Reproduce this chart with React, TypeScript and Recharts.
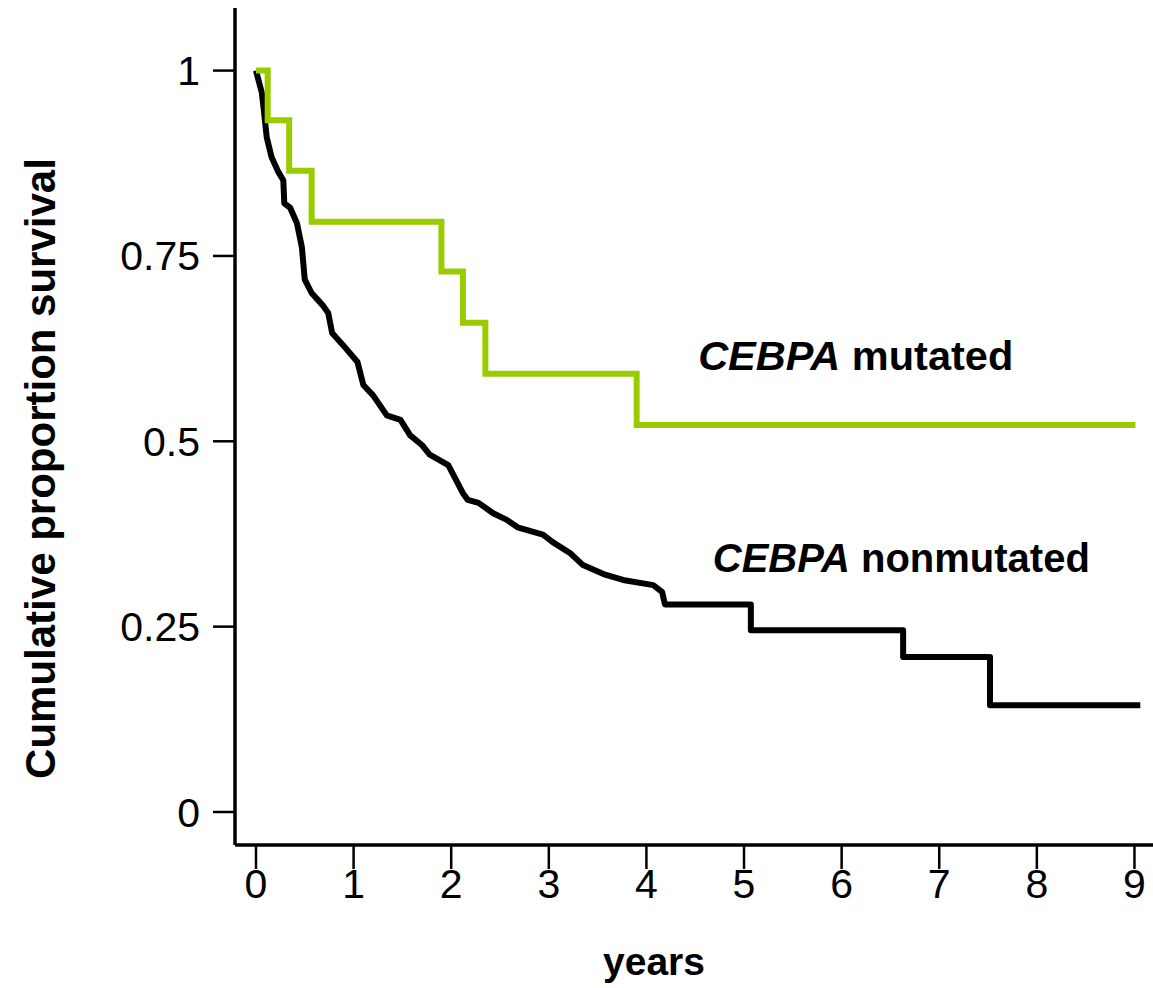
import React from "react";
import {
  LineChart,
  Line,
  XAxis,
  YAxis,
  ReferenceDot,
  Label,
} from "recharts";

// ---- data ----
const xTicks = [0, 1, 2, 3, 4, 5, 6, 7, 8, 9];
const yTicks = [0, 0.25, 0.5, 0.75, 1];

const mutatedYears = [0, 0.12, 0.34, 0.57, 1.9, 2.12, 2.35, 3.9, 9.01];
const mutatedSurvival = [1.0, 0.933, 0.865, 0.796, 0.729, 0.66, 0.591, 0.522, 0.522];

const nonmutatedYears = [
  0, 0.03, 0.06, 0.08, 0.11, 0.16, 0.23, 0.28, 0.29, 0.35, 0.42, 0.47, 0.5,
  0.57, 0.68, 0.74, 0.78, 0.89, 1.04, 1.1, 1.2, 1.34, 1.48, 1.58, 1.7, 1.78,
  1.97, 2.12, 2.17, 2.28, 2.43, 2.57, 2.68, 2.94, 3.04, 3.22, 3.35, 3.56, 3.76,
  4.07, 4.16, 4.19, 5.07, 5.07, 6.63, 6.63, 7.52, 7.52, 9.06,
];
const nonmutatedSurvival = [
  1.0, 0.985, 0.97, 0.947, 0.91, 0.883, 0.863, 0.852, 0.821, 0.815, 0.794,
  0.762, 0.718, 0.7, 0.684, 0.673, 0.646, 0.63, 0.607, 0.576, 0.562, 0.535,
  0.529, 0.508, 0.495, 0.482, 0.468, 0.43, 0.421, 0.417, 0.403, 0.394, 0.384,
  0.374, 0.364, 0.349, 0.333, 0.321, 0.313, 0.306, 0.297, 0.28, 0.28, 0.245,
  0.245, 0.209, 0.209, 0.144, 0.144,
];

const mutatedLabelAt = { x: 4.53, y: 0.596 };
const nonmutatedLabelAt = { x: 4.68, y: 0.324 };

const mutatedData = mutatedYears.map((t, i) => ({ t, s: mutatedSurvival[i] }));
const nonmutatedData = nonmutatedYears.map((t, i) => ({ t, s: nonmutatedSurvival[i] }));

const FONT = '"Liberation Sans", Arial, Helvetica, sans-serif';
const GREEN = "#99cc00";

const annotation = (rest: string, size: number) => (props: any) => (
  <text
    x={props.cx}
    y={props.cy}
    textAnchor="start"
    fontFamily={FONT}
    fontWeight="bold"
    fontSize={size}
    fill="#000"
  >
    <tspan fontStyle="italic">CEBPA</tspan>
    <tspan>{" " + rest}</tspan>
  </text>
);

const YTitle = (props: any) => {
  const vb = props.viewBox || {};
  const cx = vb.x + 40;
  const cy = vb.y + vb.height / 2 + 42;
  return (
    <text
      x={cx}
      y={cy}
      transform={`rotate(-90 ${cx} ${cy})`}
      textAnchor="middle"
      dominantBaseline="central"
      fontFamily={FONT}
      fontWeight="bold"
      fontSize={42}
      fill="#000"
    >
      Cumulative proportion survival
    </text>
  );
};

const XTitle = (props: any) => {
  const vb = props.viewBox || {};
  const cx = vb.x + vb.width / 2 - 40;
  const cy = vb.y + 130;
  return (
    <text
      x={cx}
      y={cy}
      textAnchor="middle"
      fontFamily={FONT}
      fontWeight="bold"
      fontSize={39}
      fill="#000"
    >
      years
    </text>
  );
};

export default function App() {
  return (
    <div style={{ position: "absolute", left: 0, top: 0, background: "#fff" }}>
      <LineChart
        width={1153}
        height={988}
        margin={{ top: 8, right: 0, bottom: 0, left: 0 }}
      >
        <XAxis
          type="number"
          dataKey="t"
          domain={[-0.215, 9.19]}
          allowDataOverflow
          ticks={xTicks}
          interval={0}
          height={143}
          tickSize={24}
          tickMargin={0}
          axisLine={{ stroke: "#000", strokeWidth: 3.5 }}
          tickLine={{ stroke: "#000", strokeWidth: 2.5 }}
          tick={{ fill: "#000", fontSize: 41, fontFamily: FONT }}
        >
          <Label content={<XTitle />} />
        </XAxis>
        <YAxis
          type="number"
          dataKey="s"
          domain={[-0.0445, 1.0844]}
          allowDataOverflow
          ticks={yTicks}
          interval={0}
          width={235}
          tickSize={22}
          tickMargin={13}
          axisLine={{ stroke: "#000", strokeWidth: 3.5 }}
          tickLine={{ stroke: "#000", strokeWidth: 2.5 }}
          tick={{ fill: "#000", fontSize: 41, fontFamily: FONT }}
        >
          <Label content={<YTitle />} />
        </YAxis>
        <Line
          data={nonmutatedData}
          dataKey="s"
          type="linear"
          stroke="#000"
          strokeWidth={6}
          strokeLinejoin="round"
          dot={false}
          activeDot={false}
          isAnimationActive={false}
        />
        <Line
          data={mutatedData}
          dataKey="s"
          type="stepAfter"
          stroke={GREEN}
          strokeWidth={6}
          dot={false}
          activeDot={false}
          isAnimationActive={false}
        />
        <ReferenceDot
          x={mutatedLabelAt.x}
          y={mutatedLabelAt.y}
          r={0}
          ifOverflow="visible"
          shape={annotation("mutated", 41.5)}
        />
        <ReferenceDot
          x={nonmutatedLabelAt.x}
          y={nonmutatedLabelAt.y}
          r={0}
          ifOverflow="visible"
          shape={annotation("nonmutated", 40)}
        />
      </LineChart>
    </div>
  );
}
